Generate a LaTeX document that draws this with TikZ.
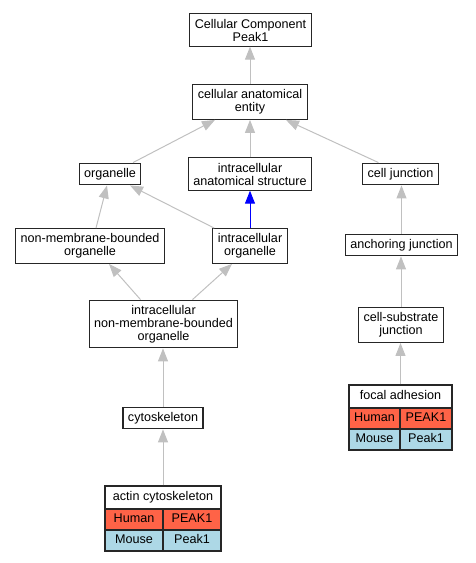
\documentclass[tikz,border=0pt]{standalone}
\usepackage{fontspec}
\setmainfont{Liberation Sans}
\usetikzlibrary{arrows.meta}
\definecolor{human}{HTML}{FF6347}
\definecolor{mouse}{HTML}{ADD8E6}
\definecolor{edgegray}{HTML}{C0C0C0}

\begin{document}
\begin{tikzpicture}[
    x=1pt, y=-1pt,
    every node/.style={font=\fontsize{12.6}{13}\selectfont},
    term/.style={draw=black!85, line width=1.1pt, fill=white, align=center,
                 inner xsep=5pt, inner ysep=5pt},
    cell/.style={draw=black!85, line width=1.1pt, inner sep=0pt,
                 text height=9.3pt, text depth=2.7pt, minimum height=21pt},
    isa/.style={draw=edgegray, line width=1pt,
                -{Triangle[length=13pt,width=10pt]}},
    partof/.style={draw=blue, line width=1pt,
                -{Triangle[length=13pt,width=10pt]}}
]
\useasboundingbox (0,0) rectangle (475,563);

% terms
\node[term] (top)   at (250.5,30)  {Cellular Component\\Peak1};
\node[term] (cae)   at (250,102)   {cellular anatomical\\entity};
\node[term] (org)   at (110,174)   {organelle};
\node[term] (ias)   at (250,174)   {intracellular\\anatomical structure};
\node[term] (cj)    at (400.5,174) {cell junction};
\node[term] (nmbo)  at (90,246)    {non-membrane-bounded\\organelle};
\node[term] (io)    at (250,246)   {intracellular\\organelle};
\node[term] (aj)    at (401.5,245) {anchoring junction};
\node[term] (inmbo) at (163.5,324) {intracellular\\non-membrane-bounded\\organelle};
\node[term] (csj)   at (401,325)   {cell-substrate\\junction};
\node[term] (cyto)  at (163,418)   {cytoskeleton};

% annotated terms
\node[cell, fill=white, minimum width=103pt, minimum height=23pt] (fa) at (400.5,396.5) {focal adhesion};
\node[cell, fill=human, minimum width=51pt] (fa-h1) at (374.5,418.5) {Human};
\node[cell, fill=human, minimum width=52pt] (fa-h2) at (426,418.5)   {PEAK1};
\node[cell, fill=mouse, minimum width=51pt] (fa-m1) at (374.5,439.5) {Mouse};
\node[cell, fill=mouse, minimum width=52pt] (fa-m2) at (426,439.5)   {Peak1};

\node[cell, fill=white, minimum width=116pt, minimum height=23pt] (act) at (163,497.5) {actin cytoskeleton};
\node[cell, fill=human, minimum width=58pt] (act-h1) at (134,519.5) {Human};
\node[cell, fill=human, minimum width=58pt] (act-h2) at (192,519.5) {PEAK1};
\node[cell, fill=mouse, minimum width=58pt] (act-m1) at (134,540.5) {Mouse};
\node[cell, fill=mouse, minimum width=58pt] (act-m2) at (192,540.5) {Peak1};

% edges
\draw[isa] (cae.north) -- (cae.north |- top.south);
\draw[isa] ([xshift=23pt]org.north) -- ([xshift=-35pt]cae.south);
\draw[isa] (ias.north) -- (ias.north |- cae.south);
\draw[isa] ([xshift=-22pt]cj.north) -- ([xshift=36pt]cae.south);
\draw[isa] ([xshift=6pt]nmbo.north) -- ([xshift=-3pt]org.south);
\draw[isa] ([xshift=2pt]io.north west) -- ([xshift=20pt]org.south);
\draw[partof] (io.north) -- (io.north |- ias.south);
\draw[isa] (aj.north) -- (aj.north |- cj.south);
\draw[isa] (csj.north) -- (csj.north |- aj.south);
\draw[isa] (fa.north) -- (fa.north |- csj.south);
\draw[isa] ([xshift=-23pt]inmbo.north) -- ([xshift=19pt]nmbo.south);
\draw[isa] ([xshift=29pt]inmbo.north) -- ([xshift=-18pt]io.south);
\draw[isa] (cyto.north) -- (cyto.north |- inmbo.south);
\draw[isa] (act.north) -- (act.north |- cyto.south);

\end{tikzpicture}
\end{document}
